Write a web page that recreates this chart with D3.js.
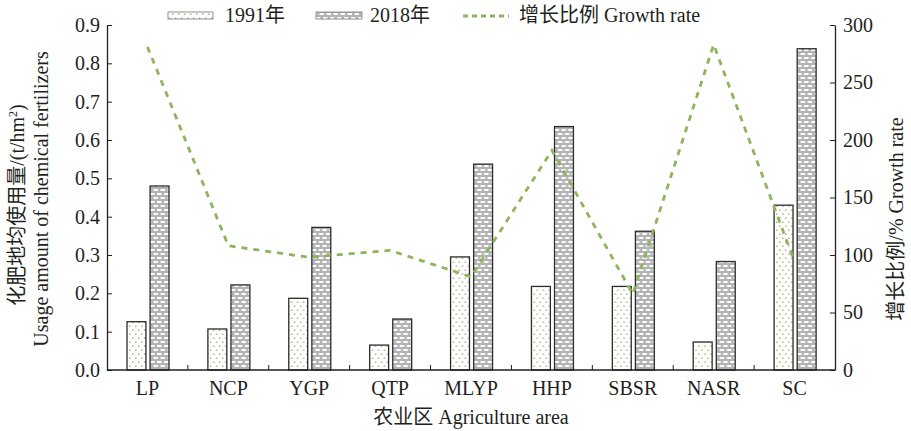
<html>
<head>
  <meta charset="UTF-8">
  <title>Chemical fertilizer usage by agriculture area</title>
  <script src="https://cdn.jsdelivr.net/npm/d3@7"></script>
  <style>
    body { margin: 0; background: #fff; }
    .axis path, .axis line { stroke: #231f20; }
  </style>
</head>
<body>
  <div id="chart"></div>
  <script>
  // ---------------------------------------------------
  // data
  // ---------------------------------------------------
  var areas = ["LP", "NCP", "YGP", "QTP", "MLYP", "HHP", "SBSR", "NASR", "SC"];
  var usage1991 = [0.126, 0.107, 0.187, 0.065, 0.295, 0.218, 0.218, 0.073, 0.430];
  var usage2018 = [0.480, 0.222, 0.372, 0.133, 0.537, 0.635, 0.362, 0.283, 0.838];
  var growthRate = [281, 108, 98, 104, 81, 191, 66, 283, 94];
  var leftTicks = [0, 0.1, 0.2, 0.3, 0.4, 0.5, 0.6, 0.7, 0.8, 0.9];
  var rightTicks = [0, 50, 100, 150, 200, 250, 300];
  var years = ["1991", "2018"];

  var W = 911, H = 431;
  var m = { left: 107, right: 835, top: 25, bottom: 370 };
  var FONT = "'Liberation Serif', 'DejaVu Serif', 'Noto Sans CJK SC', serif";

  var svg = d3.select("#chart").append("svg")
    .attr("width", W).attr("height", H)
    .style("font-family", FONT);

  // patterns
  var defs = svg.append("defs");
  var p1 = defs.append("pattern").attr("id", "dots")
    .attr("patternUnits", "userSpaceOnUse").attr("width", 6).attr("height", 8);
  p1.append("rect").attr("width", 6).attr("height", 8).attr("fill", "#fff");
  [[1, 1.5], [4, 5.5]].forEach(function (d) {
    p1.append("rect").attr("x", d[0]).attr("y", d[1]).attr("width", 1.5).attr("height", 1.5).attr("fill", "#b8ae86");
  });
  var p2 = defs.append("pattern").attr("id", "brick")
    .attr("patternUnits", "userSpaceOnUse").attr("width", 7).attr("height", 8);
  p2.append("rect").attr("width", 7).attr("height", 8).attr("fill", "#b3b3b3");
  p2.append("rect").attr("x", 1).attr("y", 1).attr("width", 4.5).attr("height", 2).attr("fill", "#fff");
  p2.append("rect").attr("x", 4.5).attr("y", 5).attr("width", 4.5).attr("height", 2).attr("fill", "#fff");
  p2.append("rect").attr("x", -2.5).attr("y", 5).attr("width", 4.5).attr("height", 2).attr("fill", "#fff");

  var fills = { "1991": "url(#dots)", "2018": "url(#brick)" };

  // scales
  var x = d3.scaleBand().domain(areas).range([m.left, m.right]).padding(0);
  var xIn = d3.scaleBand().domain(years).range([20, 62]).paddingInner(0.18);
  var y = d3.scaleLinear().domain([0, 0.9]).range([m.bottom, m.top]);
  var y2 = d3.scaleLinear().domain([0, 300]).range([m.bottom, m.top]);

  var rows = areas.map(function (a, i) {
    return { area: a, v: { "1991": usage1991[i], "2018": usage2018[i] }, g: growthRate[i] };
  });

  // bars
  var groups = svg.selectAll(".grp").data(rows).enter().append("g")
    .attr("class", "grp")
    .attr("transform", function (d) { return "translate(" + x(d.area) + ",0)"; });
  groups.selectAll("rect").data(function (d) {
    return years.map(function (k) { return { k: k, v: d.v[k] }; });
  }).enter().append("rect")
    .attr("x", function (d) { return xIn(d.k); })
    .attr("width", xIn.bandwidth())
    .attr("y", function (d) { return y(d.v); })
    .attr("height", function (d) { return m.bottom - y(d.v); })
    .attr("fill", function (d) { return fills[d.k]; })
    .attr("stroke", "#2b2b2b")
    .attr("stroke-width", 1.3);

  // axes
  var axL = svg.append("g").attr("class", "axis").attr("transform", "translate(" + m.left + ",0)")
    .call(d3.axisLeft(y).tickValues(leftTicks).tickFormat(d3.format(".1f")).tickSizeInner(-5).tickSizeOuter(0).tickPadding(7));
  var axR = svg.append("g").attr("class", "axis").attr("transform", "translate(" + m.right + ",0)")
    .call(d3.axisRight(y2).tickValues(rightTicks).tickSizeInner(-5).tickSizeOuter(0).tickPadding(8));
  [axL, axR].forEach(function (a) {
    a.attr("font-family", null);
    a.selectAll("text").style("font-size", "20px");
    a.select(".domain").attr("stroke-width", 1.3);
  });

  // bottom axis
  svg.append("line").attr("x1", m.left).attr("x2", m.right)
    .attr("y1", m.bottom).attr("y2", m.bottom)
    .attr("stroke", "#231f20").attr("stroke-width", 1.3);
  svg.selectAll(".xtick").data(areas.slice(1)).enter().append("line")
    .attr("x1", function (d) { return x(d); }).attr("x2", function (d) { return x(d); })
    .attr("y1", m.bottom).attr("y2", m.bottom - 5)
    .attr("stroke", "#231f20");
  svg.selectAll(".xlab").data(areas).enter().append("text")
    .attr("x", function (d) { return x(d) + x.bandwidth() / 2; })
    .attr("y", 395)
    .attr("text-anchor", "middle")
    .style("font-size", "20px")
    .text(function (d) { return d; });

  // growth line
  var line = d3.line()
    .x(function (d) { return x(d.area) + x.bandwidth() / 2; })
    .y(function (d) { return y2(d.g); });
  svg.append("path").datum(rows)
    .attr("d", line)
    .attr("fill", "none")
    .attr("stroke", "#8db55b")
    .attr("stroke-width", 2.8)
    .attr("stroke-dasharray", "6,6");

  // titles
  svg.append("text").attr("x", (m.left + m.right) / 2).attr("y", 424)
    .attr("text-anchor", "middle").style("font-size", "20px")
    .text("农业区 Agriculture area");

  var lt = svg.append("text").attr("transform", "translate(24,205) rotate(-90)")
    .attr("text-anchor", "middle").style("font-size", "20px");
  lt.append("tspan").text("化肥地均使用量/(t/hm");
  lt.append("tspan").attr("baseline-shift", "super").style("font-size", "12px").text("2");
  lt.append("tspan").text(")");
  svg.append("text").attr("transform", "translate(48,199) rotate(-90)")
    .attr("text-anchor", "middle").style("font-size", "20px")
    .text("Usage amount of chemical fertilizers");

  svg.append("text").attr("transform", "translate(903,219) rotate(-90)")
    .attr("text-anchor", "middle").style("font-size", "20px")
    .text("增长比例/% Growth rate");

  // legend
  var leg = svg.append("g");
  leg.append("rect").attr("x", 168).attr("y", 12).attr("width", 45).attr("height", 7)
    .attr("fill", fills["1991"]).attr("stroke", "#777").attr("stroke-width", 0.8);
  leg.append("text").attr("x", 225).attr("y", 22).style("font-size", "20px").text("1991年");
  leg.append("rect").attr("x", 316).attr("y", 12).attr("width", 46).attr("height", 7)
    .attr("fill", fills["2018"]).attr("stroke", "#777").attr("stroke-width", 0.8);
  leg.append("text").attr("x", 370).attr("y", 22).style("font-size", "20px").text("2018年");
  leg.append("line").attr("x1", 463).attr("x2", 509).attr("y1", 16).attr("y2", 16)
    .attr("stroke", "#8db55b").attr("stroke-width", 2.8).attr("stroke-dasharray", "5,4");
  leg.append("text").attr("x", 519).attr("y", 22).style("font-size", "20px").text("增长比例 Growth rate");

  svg.selectAll("text").style("fill", "#231f20");
  </script>
</body>
</html>
